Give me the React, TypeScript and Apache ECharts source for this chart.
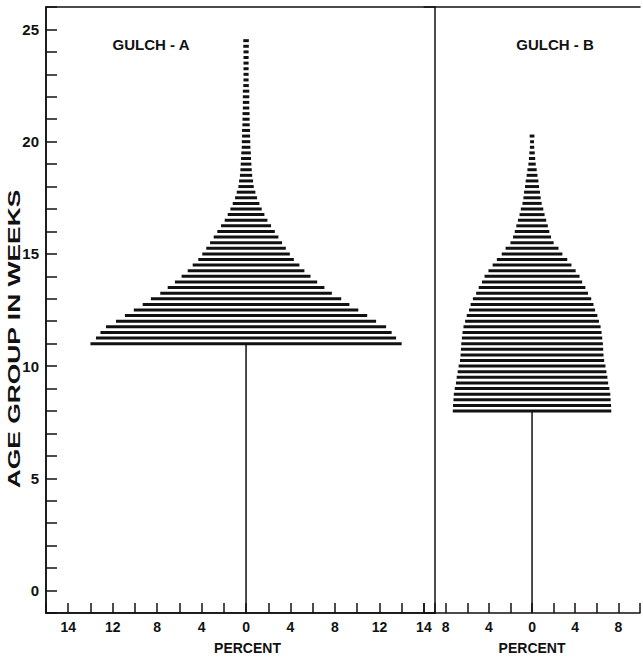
import React, { useEffect, useRef } from "react";
import * as echarts from "echarts";

// Gulch A: age group (weeks) and half-width of the bar (percent)
const ageGroupsA = [
  11, 11.25, 11.5, 11.75, 12, 12.25, 12.5, 12.75, 13, 13.25, 13.5, 13.75, 14, 14.25, 14.5, 14.75,
  15, 15.25, 15.5, 15.75, 16, 16.25, 16.5, 16.75, 17, 17.25, 17.5, 17.75, 18, 18.25, 18.5, 18.75,
  19, 19.25, 19.5, 19.75, 20, 20.25, 20.5, 20.75, 21, 21.25, 21.5, 21.75, 22, 22.25, 22.5, 22.75,
  23, 23.25, 23.5, 23.75, 24, 24.25, 24.5,
];
const percentA = [
  14.0, 13.5, 13.1, 12.6, 11.7, 10.9, 10.1, 9.3, 8.56, 7.72, 7.05, 6.4, 5.8, 5.25, 4.8, 4.3,
  3.94, 3.58, 3.24, 2.91, 2.59, 2.25, 1.92, 1.65, 1.41, 1.2, 0.99, 0.84, 0.69, 0.63, 0.55, 0.51,
  0.48, 0.45, 0.43, 0.39, 0.38, 0.36, 0.36, 0.33, 0.32, 0.32, 0.29, 0.29, 0.29, 0.29, 0.25, 0.23,
  0.23, 0.23, 0.23, 0.23, 0.23, 0.25, 0.25,
];

// Gulch B
const ageGroupsB = [
  8, 8.25, 8.5, 8.75, 9, 9.25, 9.5, 9.75, 10, 10.25, 10.5, 10.75, 11, 11.25, 11.5, 11.75,
  12, 12.25, 12.5, 12.75, 13, 13.25, 13.5, 13.75, 14, 14.25, 14.5, 14.75, 15, 15.25, 15.5, 15.75,
  16, 16.25, 16.5, 16.75, 17, 17.25, 17.5, 17.75, 18, 18.25, 18.5, 18.75, 19, 19.25, 19.5, 19.75,
  20, 20.25,
];
const percentB = [
  7.34, 7.32, 7.28, 7.25, 7.16, 7.05, 6.98, 6.89, 6.8, 6.68, 6.62, 6.59, 6.56, 6.5, 6.44, 6.35,
  6.2, 6.05, 5.84, 5.69, 5.48, 5.18, 4.94, 4.64, 4.4, 4.04, 3.65, 3.26, 2.81, 2.45, 2.0, 1.76,
  1.6, 1.46, 1.31, 1.16, 1.04, 0.89, 0.8, 0.74, 0.65, 0.59, 0.5, 0.43, 0.34, 0.29, 0.25, 0.2,
  0.18, 0.22,
];

// Tick labels (value on axis -> printed label)
const xTickValuesA = [-16, -12, -8, -4, 0, 4, 8, 12, 16];
const xTickLabelsA = ["14", "12", "8", "4", "0", "4", "8", "12", "14"];
const xTickValuesB = [-8, -4, 0, 4, 8];
const xTickLabelsB = ["8", "4", "0", "4", "8"];
const yTickLabels = [0, 5, 10, 15, 20, 25];

const panelTitles = ["GULCH - A", "GULCH - B"];
const xAxisTitle = "PERCENT";
const yAxisTitle = "AGE GROUP IN WEEKS";

const INK = "#111";
const FONT = "'Liberation Sans', Arial, sans-serif";

function labelFor(values: number[], labels: string[]) {
  return (v: number) => {
    const i = values.findIndex((x) => Math.abs(x - v) < 1e-6);
    return i >= 0 ? labels[i] : "";
  };
}

function barRenderer(params: any, api: any) {
  const w = api.value(0);
  const y = api.value(1);
  const p1 = api.coord([-w, y]);
  const p2 = api.coord([w, y]);
  return {
    type: "rect",
    shape: { x: p1[0], y: p1[1] - 1.5, width: p2[0] - p1[0], height: 3 },
    style: { fill: INK },
  };
}

export default function App() {
  const ref = useRef<HTMLDivElement>(null);
  useEffect(() => {
    if (!ref.current) return;
    const chart = echarts.init(ref.current, null, { renderer: "svg" });
    const axisLabelStyle = { color: INK, fontFamily: FONT, fontWeight: "bold" as const, fontSize: 14 };
    const option: any = {
      animation: false,
      backgroundColor: "#fff",
      grid: [
        { left: 46, top: 7, width: 389, height: 611, show: true, borderColor: INK, borderWidth: 1.5, backgroundColor: "transparent" },
        { left: 424.1, top: 7, width: 222.2, height: 611, show: false },
      ],
      xAxis: [
        {
          gridIndex: 0, type: "value", min: -18, max: 17, interval: 2,
          axisLine: { show: true, onZero: false, lineStyle: { color: INK, width: 1.5 } },
          axisTick: { show: true, inside: true, length: 10, lineStyle: { color: INK, width: 1.5 } },
          axisLabel: { ...axisLabelStyle, margin: 7, formatter: labelFor(xTickValuesA, xTickLabelsA), showMinLabel: true, showMaxLabel: true },
          splitLine: { show: false },
          name: xAxisTitle, nameLocation: "middle", nameGap: 28,
          nameTextStyle: { color: INK, fontFamily: FONT, fontWeight: "bold", fontSize: 14, padding: [0, 0, 0, 14] },
        },
        {
          gridIndex: 1, type: "value", min: -10, max: 10, interval: 2,
          axisLine: { show: true, onZero: false, lineStyle: { color: INK, width: 1.5 } },
          axisTick: { show: true, inside: true, length: 10, lineStyle: { color: INK, width: 1.5 } },
          axisLabel: { ...axisLabelStyle, margin: 7, formatter: labelFor(xTickValuesB, xTickLabelsB) },
          splitLine: { show: false },
          name: xAxisTitle, nameLocation: "middle", nameGap: 28,
          nameTextStyle: { color: INK, fontFamily: FONT, fontWeight: "bold", fontSize: 14 },
        },
        {
          gridIndex: 1, type: "value", position: "top", min: -10, max: 10,
          axisLine: { show: true, onZero: false, lineStyle: { color: INK, width: 1.5 } },
          axisTick: { show: false }, axisLabel: { show: false }, splitLine: { show: false },
        },
      ],
      yAxis: [
        {
          gridIndex: 0, type: "value", min: -1, max: 26, interval: 1,
          axisLine: { show: true, onZero: false, lineStyle: { color: INK, width: 1.5 } },
          axisTick: { show: true, inside: true, length: 11, lineStyle: { color: INK, width: 1.5 } },
          axisLabel: {
            color: INK, fontFamily: FONT, fontWeight: "bold", fontSize: 15, margin: 7,
            formatter: (v: number) => (yTickLabels.indexOf(v) >= 0 ? String(v) : ""),
          },
          splitLine: { show: false },
        },
        { gridIndex: 1, type: "value", min: -1, max: 26, show: false },
      ],
      graphic: [
        { type: "rect", shape: { x: 92.5, y: 616, width: 2.5, height: 4 }, style: { fill: "#fff" }, z: 100 },
        {
          type: "text", x: 151, y: 44,
          style: { text: panelTitles[0], fill: INK, font: `bold 15px ${FONT}`, align: "center", verticalAlign: "middle" },
        },
        {
          type: "text", x: 555, y: 44,
          style: { text: panelTitles[1], fill: INK, font: `bold 15px ${FONT}`, align: "center", verticalAlign: "middle" },
        },
        {
          type: "text", x: 14, y: 339, rotation: Math.PI / 2, scaleX: 1.6,
          style: { text: yAxisTitle, fill: INK, font: `bold 16.5px ${FONT}`, align: "center", verticalAlign: "middle" },
        },
      ],
      series: [
        {
          type: "custom", xAxisIndex: 0, yAxisIndex: 0, renderItem: barRenderer,
          data: ageGroupsA.map((a, i) => [percentA[i], a]), encode: { x: 0, y: 1 },
        },
        {
          type: "line", xAxisIndex: 0, yAxisIndex: 0, symbol: "none",
          lineStyle: { color: INK, width: 1.5 },
          data: [[0, -1], [0, ageGroupsA[0]]],
        },
        {
          type: "custom", xAxisIndex: 1, yAxisIndex: 1, renderItem: barRenderer,
          data: ageGroupsB.map((a, i) => [percentB[i], a]), encode: { x: 0, y: 1 },
        },
        {
          type: "line", xAxisIndex: 1, yAxisIndex: 1, symbol: "none",
          lineStyle: { color: INK, width: 1.5 },
          data: [[0, -1], [0, ageGroupsB[0]]],
        },
      ],
    };
    chart.setOption(option);
    return () => chart.dispose();
  }, []);
  return (
    <div
      ref={ref}
      style={{ position: "fixed", left: 0, top: 0, width: 643, height: 660, background: "#fff" }}
    />
  );
}
